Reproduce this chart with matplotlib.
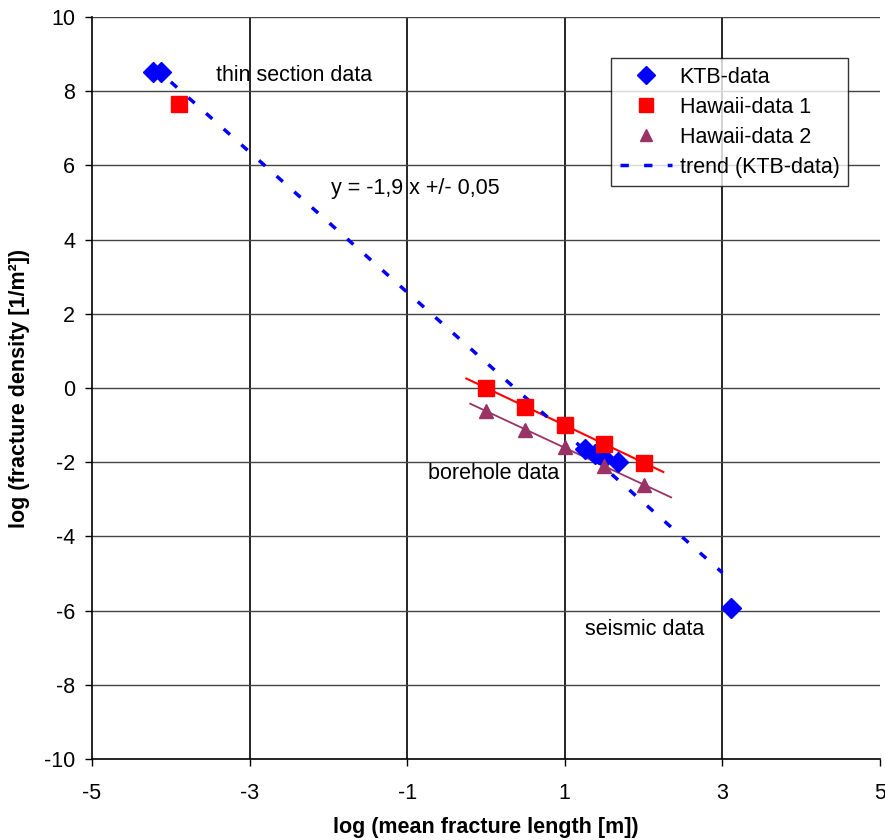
import numpy as np
import matplotlib
matplotlib.use("Agg")
import matplotlib.pyplot as plt

plt.rcParams['font.family'] = ['Liberation Sans', 'DejaVu Sans']

# ---- data ----
ktb_x = [-4.23, -4.12, 1.26, 1.38, 1.5, 1.67, 3.11]
ktb_y = [8.52, 8.52, -1.65, -1.77, -1.88, -1.99, -5.94]

hawaii1_x = [-3.9, 0.0, 0.5, 1.0, 1.5, 2.0]
hawaii1_y = [7.66, 0.0, -0.5, -1.0, -1.5, -2.02]

hawaii2_x = [0.0, 0.5, 1.0, 1.5, 2.0]
hawaii2_y = [-0.63, -1.12, -1.6, -2.09, -2.62]

trend_slope = -1.89
trend_intercept = 0.69
trend_range = [-4.0, 3.0]

hawaii1_fit_range = [-0.25, 2.25]
hawaii2_fit_range = [-0.2, 2.35]

x_ticks = [-5, -3, -1, 1, 3, 5]
y_ticks = [-10, -8, -6, -4, -2, 0, 2, 4, 6, 8, 10]

BLUE = '#0000FF'
RED = '#FF0000'
PURPLE = '#993366'
FS = 15.5

fig = plt.figure(figsize=(8.85, 8.40), dpi=100)
ax = fig.add_axes([92/885, 1-759/840, (880-92)/885, (759-17)/840])
ax.set_xlim(-5, 5)
ax.set_ylim(-10, 10)

# grid
for xv in x_ticks[1:-1]:
    ax.axvline(xv, color='black', lw=1.2, zorder=0)
for yv in y_ticks[1:]:
    ax.axhline(yv, color='#444444', lw=1.0, zorder=0)

# fits for Hawaii borehole data
h1x = np.array(hawaii1_x[1:]); h1y = np.array(hawaii1_y[1:])
p1 = np.polyfit(h1x, h1y, 1)
xr1 = np.array(hawaii1_fit_range)
ax.plot(xr1, np.polyval(p1, xr1), color=RED, lw=1.5, zorder=2)

p2 = np.polyfit(hawaii2_x, hawaii2_y, 1)
xr2 = np.array(hawaii2_fit_range)
ax.plot(xr2, np.polyval(p2, xr2), color=PURPLE, lw=1.3, zorder=2)

# trend line
tx = np.array(trend_range)
ax.plot(tx, trend_slope*tx + trend_intercept, color=BLUE, lw=2.5,
        linestyle=(0, (2.4, 4.4)), zorder=3, label='trend (KTB-data)')

# markers
ax.plot(ktb_x, ktb_y, 'D', color=BLUE, ms=10.5, mec=BLUE, ls='none', zorder=4, label='KTB-data')
ax.plot(hawaii1_x, hawaii1_y, 's', color=RED, ms=12, mec=RED, ls='none', zorder=5, label='Hawaii-data 1')
ax.plot(hawaii2_x, hawaii2_y, '^', color=PURPLE, ms=10, mec=PURPLE, ls='none', zorder=5, label='Hawaii-data 2')

# annotations
ax.text(-3.43, 8.41, 'thin section data', fontsize=FS, va='center', ha='left')
ax.text(-1.97, 5.37, 'y = -1,9 x +/- 0,05', fontsize=FS, va='center', ha='left')
ax.text(-0.74, -2.3, 'borehole data', fontsize=FS, va='center', ha='left')
ax.text(1.26, -6.5, 'seismic data', fontsize=FS, va='center', ha='left')

ax.set_xticks(x_ticks)
ax.set_yticks(y_ticks)
ax.set_xticklabels([str(v) for v in x_ticks])
ax.set_yticklabels([str(v) for v in y_ticks])
ax.tick_params(axis='both', direction='out', length=5, width=1, labelsize=FS)
ax.tick_params(axis='x', pad=12)
ax.tick_params(axis='y', pad=7)

for s in ['top', 'right']:
    ax.spines[s].set_visible(False)
for s in ['left', 'bottom']:
    ax.spines[s].set_linewidth(1.2)

ax.set_xlabel('log (mean fracture length [m])', fontsize=FS, fontweight='bold', labelpad=10)
ax.set_ylabel('log (fracture density [1/m²])', fontsize=FS, fontweight='bold', labelpad=10)

handles, labels = ax.get_legend_handles_labels()
order = [1, 2, 3, 0]
leg = ax.legend([handles[i] for i in order], [labels[i] for i in order],
                loc='upper right', bbox_to_anchor=(848/885, 1-58/840), bbox_transform=fig.transFigure,
                fontsize=FS, frameon=True, fancybox=False, edgecolor='black',
                handlelength=2.45, handletextpad=0.33, labelspacing=0.42, borderpad=0.4,
                borderaxespad=0, markerscale=0.85)
leg.get_frame().set_linewidth(1.0)

fig.savefig('out.png', dpi=100)
